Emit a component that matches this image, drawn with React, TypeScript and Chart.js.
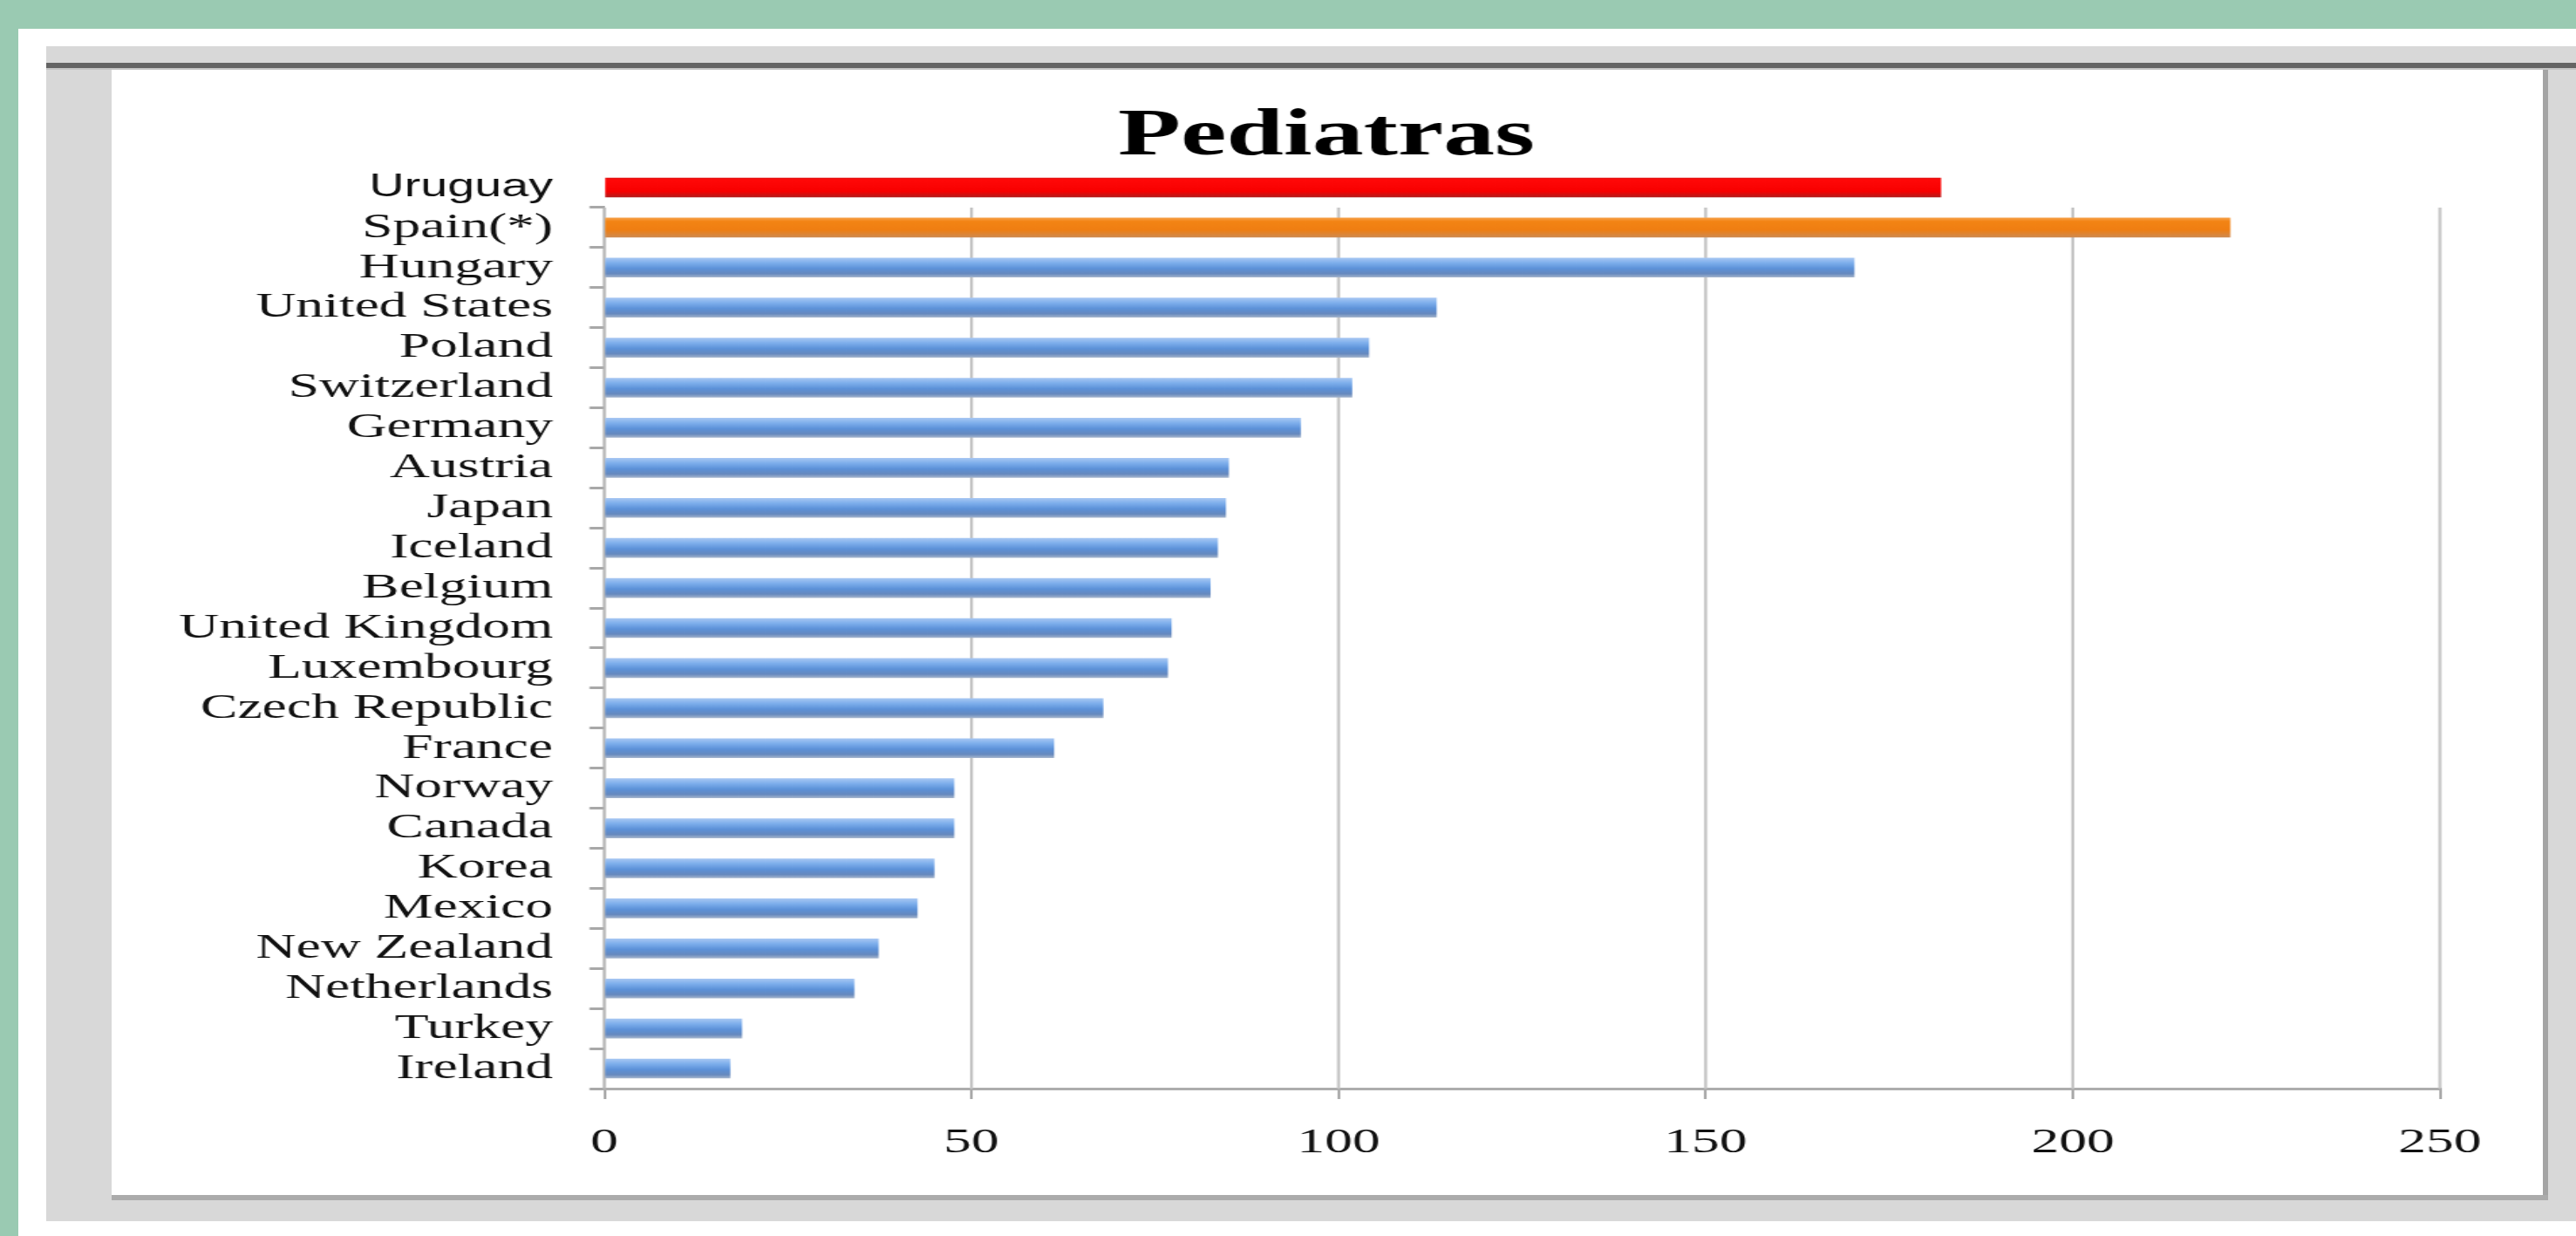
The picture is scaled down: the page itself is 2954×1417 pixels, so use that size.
import React, { useEffect, useRef } from 'react';
import { Chart, registerables } from 'chart.js';

Chart.register(...registerables);

// ---------- data ----------
const categories = [
  'Uruguay',
  'Spain(*)',
  'Hungary',
  'United States',
  'Poland',
  'Switzerland',
  'Germany',
  'Austria',
  'Japan',
  'Iceland',
  'Belgium',
  'United Kingdom',
  'Luxembourg',
  'Czech Republic',
  'France',
  'Norway',
  'Canada',
  'Korea',
  'Mexico',
  'New Zealand',
  'Netherlands',
  'Turkey',
  'Ireland',
];
const values = [
  182, 221.4, 170.2, 113.3, 104.1, 101.8, 94.8, 85.0, 84.6, 83.5, 82.5, 77.2,
  76.7, 67.9, 61.2, 47.6, 47.6, 44.9, 42.6, 37.3, 34.0, 18.7, 17.1,
];
const xTickValues = [0, 50, 100, 150, 200, 250];
const chartTitle = 'Pediatras';

// ---------- layout / style ----------
const STRETCH = 1.55; // the reference picture is stretched horizontally
const CANVAS_W = 1799;
const CANVAS_H = 1290;
const PAD_R = 1.6;
const Y_AXIS_W = 364.52;
const RIGHT_SPACER_W = 74.88;
const X_AXIS_H = 122;
const BAR = 22;

const stops: Record<string, [number, string][]> = {
  red: [
    [0, '#E21414'],
    [0.12, '#FF0808'],
    [0.7, '#F80000'],
    [1, '#B41C1C'],
  ],
  orange: [
    [0, '#F6A048'],
    [0.18, '#F38414'],
    [0.62, '#EF7E12'],
    [1, '#CF8A50'],
  ],
  blue: [
    [0, '#A6C6F2'],
    [0.25, '#7EAFEC'],
    [0.55, '#5C91D8'],
    [0.82, '#6689BE'],
    [1, '#A2B3CC'],
  ],
};
const solid: Record<string, string> = { red: '#F80000', orange: '#EF7E12', blue: '#6A9ADC' };

const keyFor = (i: number) => (i === 0 ? 'red' : i === 1 ? 'orange' : 'blue');

const barFill = (c: any) => {
  const i = c.dataIndex;
  const key = keyFor(i ?? 2);
  const ys = c.chart && c.chart.scales ? c.chart.scales.y : null;
  if (!ys || i == null) return solid[key];
  const cy = ys.getPixelForValue(i);
  if (!isFinite(cy)) return solid[key];
  const g = c.chart.ctx.createLinearGradient(0, cy - BAR / 2, 0, cy + BAR / 2);
  stops[key].forEach(([o, col]) => g.addColorStop(o, col));
  return g;
};

// grid lines that start below the highlighted (Uruguay) row
const partialGrid = {
  id: 'partialGrid',
  beforeDatasetsDraw(chart: any) {
    const { ctx, chartArea, scales } = chart;
    const x = scales.x;
    const y = scales.y;
    const top = (y.getPixelForValue(0) + y.getPixelForValue(1)) / 2;
    ctx.save();
    x.ticks.forEach((t: any) => {
      const px = x.getPixelForValue(t.value);
      ctx.beginPath();
      ctx.strokeStyle = t.value === 0 ? '#B4B4B4' : '#C4C4C4';
      ctx.lineWidth = 2.2;
      ctx.moveTo(px, top);
      ctx.lineTo(px, chartArea.bottom);
      ctx.stroke();
    });
    ctx.restore();
  },
};

export default function App() {
  const canvasRef = useRef<HTMLCanvasElement | null>(null);

  useEffect(() => {
    if (!canvasRef.current) return;
    const chart = new Chart(canvasRef.current, {
      type: 'bar',
      data: {
        labels: categories,
        datasets: [
          {
            data: values,
            backgroundColor: barFill as any,
            borderWidth: 0,
            barThickness: BAR,
          },
        ],
      },
      options: {
        indexAxis: 'y',
        animation: false,
        responsive: true,
        maintainAspectRatio: false,
        layout: { padding: { left: 0, right: PAD_R, top: 0, bottom: 0 } },
        plugins: {
          legend: { display: false },
          tooltip: { enabled: false },
          title: {
            display: true,
            text: chartTitle,
            color: '#000',
            font: { family: 'Liberation Serif', size: 76, weight: 'bold', lineHeight: 0.9 },
            padding: { top: 42.8, bottom: 0.8 },
          },
        },
        scales: {
          x: {
            type: 'linear',
            min: 0,
            max: 250,
            afterFit: (s: any) => {
              s.height = X_AXIS_H;
            },
            afterBuildTicks: (s: any) => {
              s.ticks = xTickValues.map((v) => ({ value: v }));
            },
            ticks: {
              color: '#111',
              font: { family: 'Liberation Serif', size: 41 },
              padding: 25.4,
            },
            grid: {
              drawOnChartArea: false,
              drawTicks: true,
              tickLength: 12,
              tickColor: '#A8A8A8',
              lineWidth: 2,
            },
            border: { display: true, color: '#ADADAD', width: 3 },
          },
          y: {
            type: 'category',
            position: 'left',
            afterFit: (s: any) => {
              s.width = Y_AXIS_W;
            },
            ticks: {
              color: '#111',
              padding: 27,
              autoSkip: false,
              font: ((c: any) =>
                c.index === 0
                  ? { family: 'Liberation Sans', size: 36 }
                  : { family: 'Liberation Serif', size: 41 }) as any,
            },
            grid: {
              drawOnChartArea: false,
              drawTicks: true,
              tickLength: 11,
              lineWidth: 3,
              tickColor: ((c: any) => (c.index === 0 ? 'rgba(0,0,0,0)' : '#A8A8A8')) as any,
            },
            border: { display: false },
          },
          // empty right-hand spacer so the title sits where the reference has it
          spacer: {
            type: 'linear',
            axis: 'y',
            position: 'right',
            display: true,
            afterFit: (s: any) => {
              s.width = RIGHT_SPACER_W;
            },
            ticks: { display: false },
            grid: { display: false },
            border: { display: false },
          },
        },
      },
      plugins: [partialGrid],
    });
    return () => chart.destroy();
  }, []);

  return (
    <div
      style={{
        position: 'fixed',
        left: 0,
        top: 0,
        width: 2954,
        height: 1417,
        background: '#9ACAB2',
        overflow: 'hidden',
      }}
    >
      {/* white panel */}
      <div style={{ position: 'absolute', left: 21, top: 33, right: 0, bottom: 0, background: '#FFFFFF' }} />
      {/* grey frame */}
      <div style={{ position: 'absolute', left: 53, top: 53, width: 2901, height: 1347, background: '#D8D8D8' }} />
      {/* dark top line */}
      <div style={{ position: 'absolute', left: 53, top: 72, width: 2901, height: 6, background: '#646464' }} />
      <div style={{ position: 'absolute', left: 53, top: 78, width: 2901, height: 2, background: '#C4C4C4' }} />
      {/* interior edges */}
      <div style={{ position: 'absolute', left: 2916, top: 80, width: 6, height: 1296, background: '#A4A4A4' }} />
      <div style={{ position: 'absolute', left: 128, top: 1370, width: 2794, height: 6, background: '#ABABAB' }} />
      {/* interior */}
      <div style={{ position: 'absolute', left: 128, top: 80, width: 2788, height: 1290, background: '#FFFFFF' }} />
      {/* chart */}
      <div
        style={{
          position: 'absolute',
          left: 128,
          top: 80,
          width: CANVAS_W,
          height: CANVAS_H,
          transform: `scaleX(${STRETCH})`,
          transformOrigin: '0 0',
        }}
      >
        <canvas ref={canvasRef} />
      </div>
    </div>
  );
}
